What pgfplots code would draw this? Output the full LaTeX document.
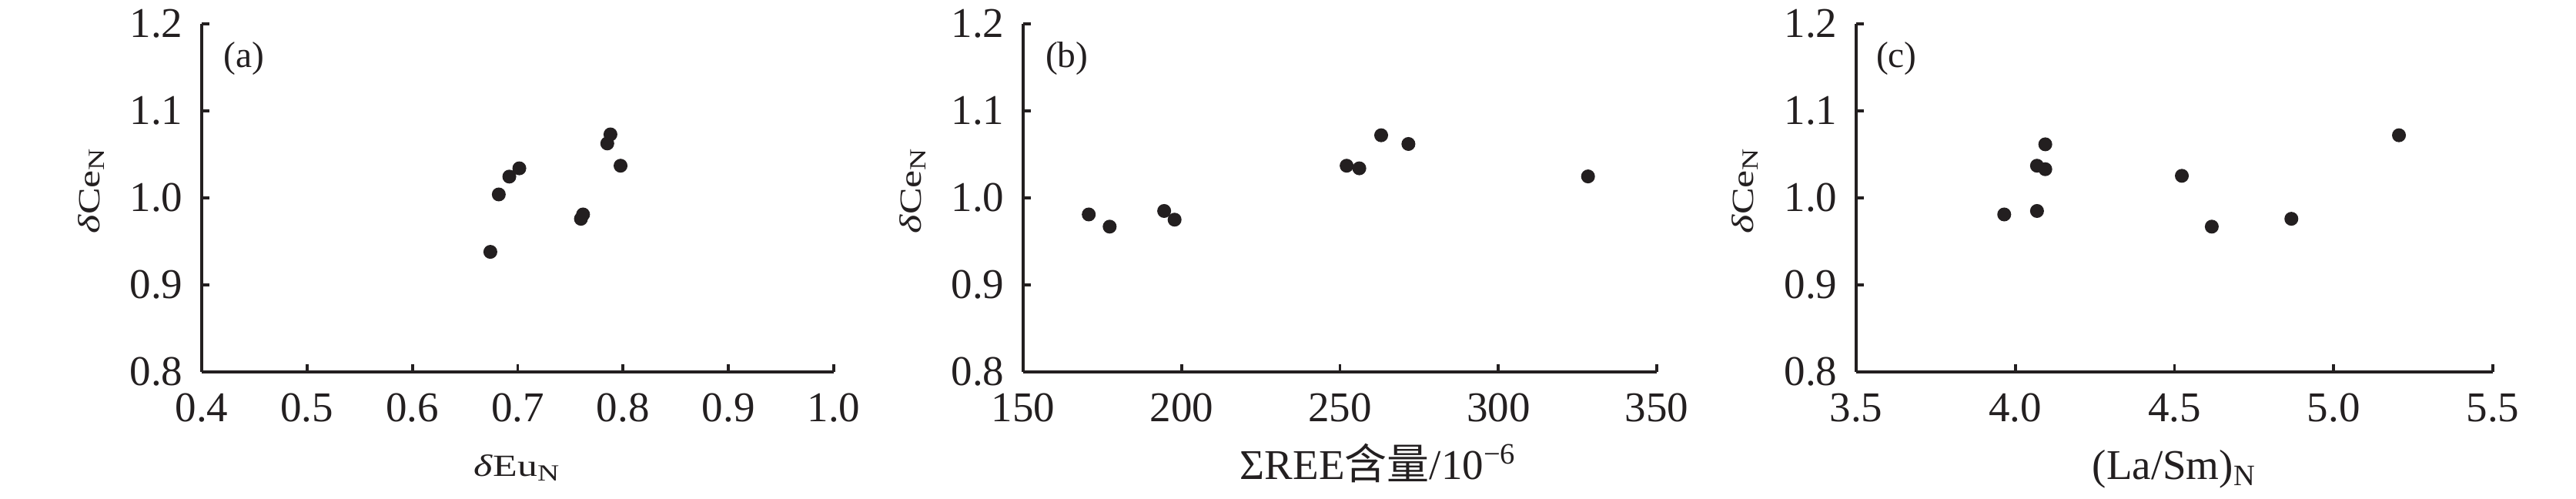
\documentclass[border=0pt]{standalone}
\usepackage{fontspec}
\setmainfont{Liberation Serif}
\newfontfamily\cjk{Noto Sans CJK SC}
\usepackage{graphicx}
\usepackage{pgfplots}
\pgfplotsset{compat=1.18}
\definecolor{ink}{HTML}{231F20}
\newcommand{\dlab}[1]{\scalebox{1.3}[1]{\fontsize{8}{9}\selectfont #1}}
\pgfplotsset{
  panel/.style={
    scale only axis, height=90.4pt,
    axis x line*=bottom, axis y line*=left,
    axis line style={ink, line width=0.75pt},
    every tick/.style={ink, line width=0.75pt},
    tick align=inside, major tick length=2pt,
    ymin=0.8, ymax=1.2, ytick={0.8,0.9,1.0,1.1,1.2},
    /pgf/number format/assume math mode=true,
    tick label style={font=\rmfamily\fontsize{11}{13}\selectfont, text=ink},
    yticklabel style={/pgf/number format/fixed, /pgf/number format/fixed zerofill, /pgf/number format/precision=1, xshift=-1.4pt},
    xticklabel style={yshift=-2.1pt},
    ylabel style={at={(axis description cs:-0.161,0.523)}, anchor=base, text=ink},
    xlabel style={anchor=base, text=ink},
    ylabel={\dlab{\textit{δ}Ce\textsubscript{N}}},
  },
  dots/.style={only marks, mark=*, mark size=1.6pt, color=ink, fill=ink},
}
\begin{document}
\begin{tikzpicture}
\useasboundingbox (0,0) rectangle (669.2pt,129.4pt);
% (a)
\begin{axis}[panel, at={(52.4pt,32.8pt)}, anchor=south west, width=164.2pt,
  xmin=0.4, xmax=1.0, xtick={0.4,0.5,0.6,0.7,0.8,0.9,1.0},
  xticklabel style={/pgf/number format/fixed, /pgf/number format/fixed zerofill, /pgf/number format/precision=1},
  xlabel={\dlab{\textit{δ}Eu\textsubscript{N}}},
  xlabel style={at={(axis description cs:0.5,-0.300)}}]
\addplot[dots] coordinates {
(0.674,0.938) (0.682,1.004) (0.692,1.0245) (0.7015,1.034)
(0.760,0.976) (0.762,0.981) (0.785,1.0626) (0.788,1.073) (0.7976,1.037)};
\node[anchor=north west, inner sep=0pt, xshift=5.6pt, yshift=-4.6pt, font=\fontsize{9.5}{11}\selectfont, text=ink] at (rel axis cs:0,1) {(a)};
\end{axis}
% (b)
\begin{axis}[panel, at={(265.8pt,32.8pt)}, anchor=south west, width=164.6pt,
  xmin=150, xmax=350, xtick={150,200,250,300,350},
  xlabel={ΣREE{\cjk 含量}/10\textsuperscript{−6}},
  xlabel style={font=\fontsize{11}{13}\selectfont, at={(axis description cs:0.561,-0.308)}}]
\addplot[dots] coordinates {
(170.7,0.981) (177.3,0.967) (194.5,0.985) (197.8,0.975)
(252.1,1.037) (256.1,1.034) (263.0,1.072) (271.6,1.062) (328.3,1.0247)};
\node[anchor=north west, inner sep=0pt, xshift=5.6pt, yshift=-4.6pt, font=\fontsize{9.5}{11}\selectfont, text=ink] at (rel axis cs:0,1) {(b)};
\end{axis}
% (c)
\begin{axis}[panel, at={(482.2pt,32.8pt)}, anchor=south west, width=165.4pt,
  xmin=3.5, xmax=5.5, xtick={3.5,4.0,4.5,5.0,5.5},
  xticklabel style={/pgf/number format/fixed, /pgf/number format/fixed zerofill, /pgf/number format/precision=1},
  xlabel={(La/Sm)\textsubscript{N}},
  xlabel style={font=\fontsize{11}{13}\selectfont, at={(axis description cs:0.5,-0.308)}}]
\addplot[dots] coordinates {
(3.965,0.981) (4.068,0.985) (4.068,1.037) (4.094,1.033) (4.094,1.0616)
(4.523,1.0254) (4.617,0.967) (4.867,0.976) (5.205,1.072)};
\node[anchor=north west, inner sep=0pt, xshift=5.0pt, yshift=-4.6pt, font=\fontsize{9.5}{11}\selectfont, text=ink] at (rel axis cs:0,1) {(c)};
\end{axis}
\end{tikzpicture}
\end{document}
